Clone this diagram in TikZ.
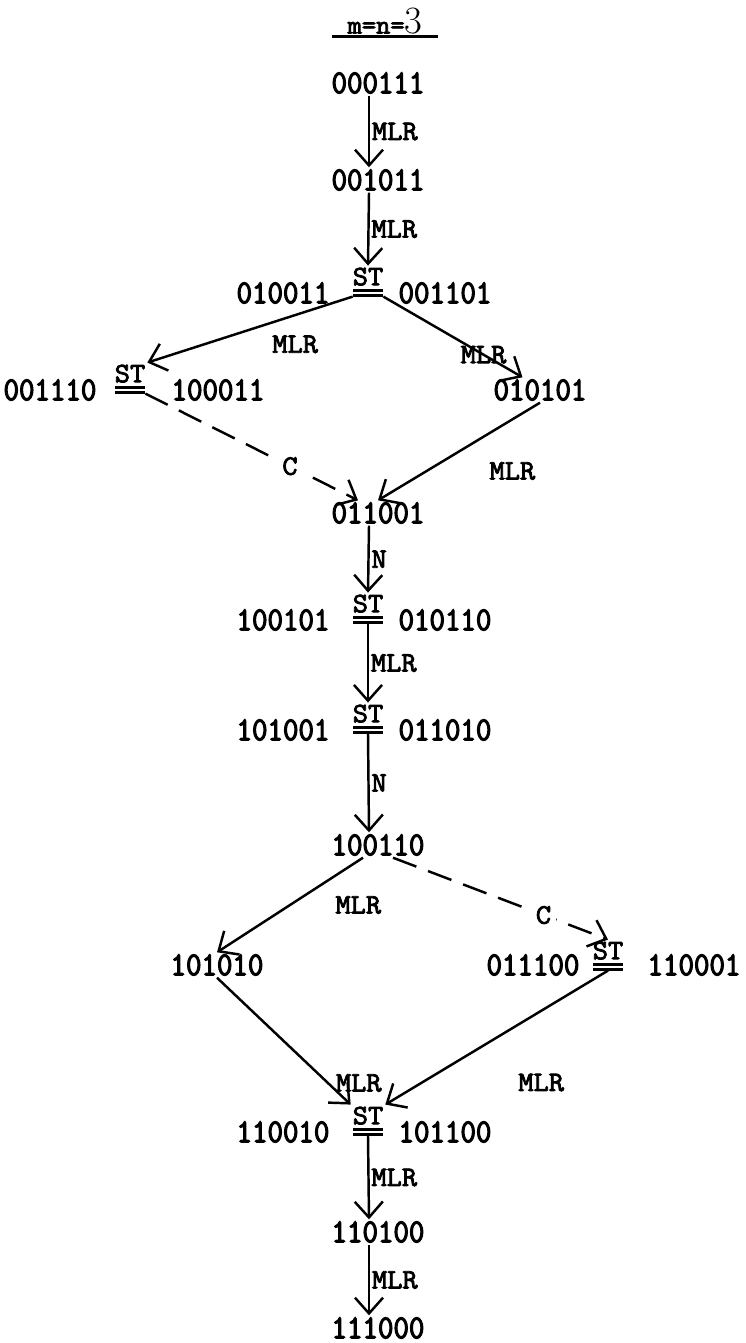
\documentclass[tikz,border=0pt]{standalone}
\usepackage{fontspec}
\newfontfamily\tw{Latin Modern Mono}[FakeStretch=0.9,FakeBold=3.5]
\newfontfamily\lb{Latin Modern Mono}[FakeStretch=1.05,FakeBold=3]
\usetikzlibrary{arrows.meta}
\tikzset{
  word/.style={font=\tw\fontsize{19}{22}\selectfont, inner sep=1pt},
  lbl/.style={font=\lb\fontsize{16}{18}\selectfont, inner sep=1pt},
  eqs/.style={minimum width=0.6cm, minimum height=0.13cm, inner sep=0pt,
    path picture={\draw[line width=2.6pt]
      (path picture bounding box.north west) -- (path picture bounding box.north east)
      (path picture bounding box.south west) -- (path picture bounding box.south east);}},
  mv/.style={->, line width=1.4pt},
  cv/.style={->, line width=1.4pt, dash pattern=on 0.5cm off 0.25cm}
}

\begin{document}
\begin{tikzpicture}[x=0.02cm,y=-0.02cm,>={Straight Barb[length=9pt,width=16pt]}]
\useasboundingbox (0,0) rectangle (745,1343);
% title
\node[inner xsep=0.3cm,inner ysep=1pt] (ttl) at (385,21)
  {{\lb\fontsize{15}{16}\selectfont m=n=}{\fontsize{22}{22}\selectfont 3}};
\draw[line width=1.8pt] (ttl.south west) -- (ttl.south east);
% states
\node[word] (a1) at (378,83) {000111};
\node[word] (a2) at (378,180) {001011};
\node[eqs,label={[lbl,name=s3t,label distance=1pt]above:ST}] (s3) at (368,293) {};
\node[word] (a3l) at (283,293) {010011};
\node[word] (a3r) at (445,293) {001101};
\node[eqs,label={[lbl,name=s4t,label distance=1pt]above:ST}] (s4) at (130,390) {};
\node[word] (a4l) at (50,390) {001110};
\node[word] (a4r) at (218,390) {100011};
\node[word] (b4) at (540,390) {010101};
\node[word] (a5) at (378,513) {011001};
\node[eqs,label={[lbl,name=s6t,label distance=1pt]above:ST}] (s6) at (368,620) {};
\node[word] (a6l) at (283,620) {100101};
\node[word] (a6r) at (445,620) {010110};
\node[eqs,label={[lbl,name=s7t,label distance=1pt]above:ST}] (s7) at (368,730) {};
\node[word] (a7l) at (283,730) {101001};
\node[word] (a7r) at (445,730) {011010};
\node[word] (a8) at (378,845) {100110};
\node[word] (a9l) at (217,965) {101010};
\node[eqs,label={[lbl,name=s9t,label distance=1pt]above:ST}] (s9) at (608,967) {};
\node[word] (b9l) at (533,965) {011100};
\node[word] (b9r) at (694,965) {110001};
\node[eqs,label={[lbl,name=s10t,label distance=1pt]above:ST}] (s10) at (368,1132) {};
\node[word] (a10l) at (283,1132) {110010};
\node[word] (a10r) at (445,1132) {101100};
\node[word] (a11) at (378,1232) {110100};
\node[word] (a12) at (378,1328) {111000};
% moves
\draw[mv] ([xshift=-0.18cm]a1.south) -- node[lbl,right] {MLR} ([xshift=-0.18cm]a2.north);
\draw[mv] ([xshift=-0.18cm]a2.south) -- node[lbl,right] {MLR} (s3t.north);
\draw[mv] (s3.south west) -- node[lbl,pos=0.28,below=0.35cm] {MLR} (s4t.north east);
\draw[mv] (s3.south east) -- node[lbl,pos=0.72] {MLR} ([xshift=-0.35cm]b4.north);
\draw[cv] (s4.south east) -- node[lbl,fill=white,inner sep=3pt,pos=0.68] {C} ([xshift=-0.4cm]a5.north);
\draw[mv] (b4.south) -- node[lbl,pos=0.7,right=1.2cm] {MLR} (a5.north);
\draw[mv] ([xshift=-0.18cm]a5.south) -- node[lbl,right] {N} (s6t.north);
\draw[mv] (s6.south) -- node[lbl,right] {MLR} (s7t.north);
\draw[mv] (s7.south) -- node[lbl,right] {N} ([xshift=-0.18cm]a8.north);
\draw[mv] ([xshift=-0.3cm]a8.south) -- node[lbl,pos=0.5,right=0.85cm] {MLR} (a9l.north);
\draw[cv] ([xshift=0.3cm]a8.south) -- node[lbl,fill=white,inner sep=3pt,pos=0.7] {C} (s9t.north);
\draw[mv] (a9l.south) -- node[lbl,pos=0.83,right=0.1cm] {MLR} (s10t.north west);
\draw[mv] (s9.south) -- node[lbl,pos=0.3,below=1.2cm] {MLR} (s10t.north east);
\draw[mv] (s10.south) -- node[lbl,right] {MLR} ([xshift=-0.18cm]a11.north);
\draw[mv] ([xshift=-0.18cm]a11.south) -- node[lbl,right] {MLR} ([xshift=-0.18cm]a12.north);
\end{tikzpicture}
\end{document}
